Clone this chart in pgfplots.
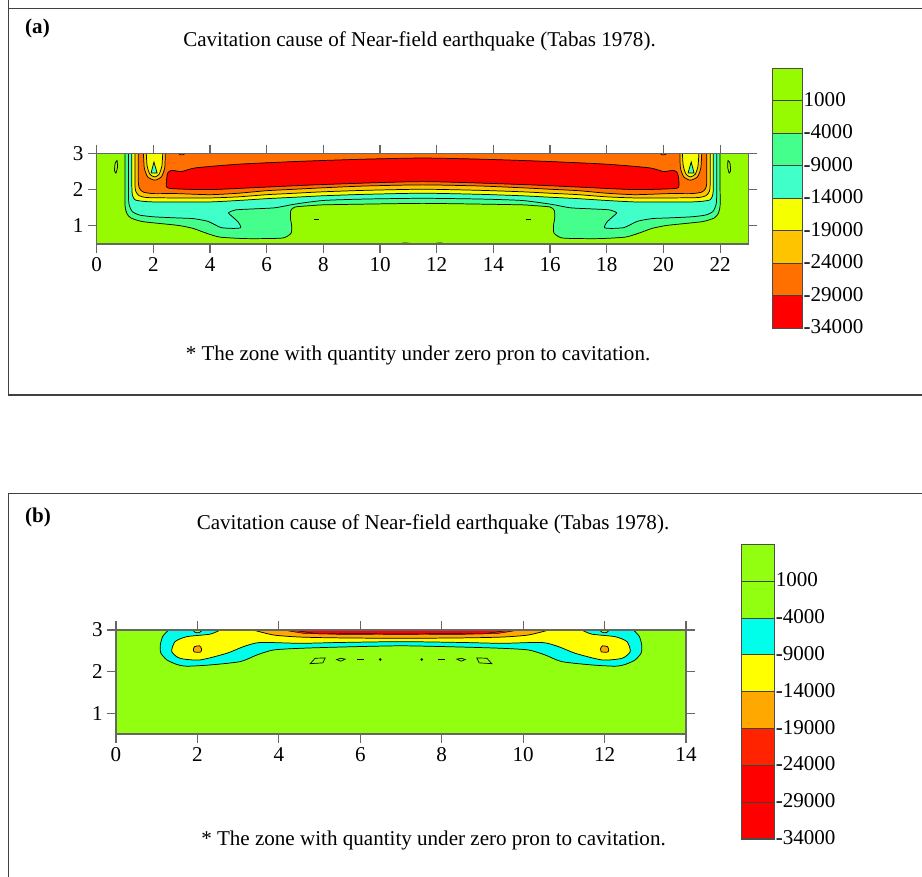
\documentclass[border=0pt]{standalone}
\usepackage{fontspec}
\setmainfont{Liberation Serif}
\usepackage{pgfplots}
\pgfplotsset{compat=1.18}
\definecolor{limeA}{RGB}{150,250,0}
\definecolor{sgA}{RGB}{68,255,140}
\definecolor{aqA}{RGB}{64,255,200}
\definecolor{yelA}{RGB}{245,255,0}
\definecolor{goldA}{RGB}{255,196,0}
\definecolor{orA}{RGB}{255,112,0}
\definecolor{redA}{RGB}{255,0,0}
\definecolor{limeB}{RGB}{145,255,15}
\definecolor{cyanB}{RGB}{0,255,235}
\definecolor{yelB}{RGB}{255,255,0}
\definecolor{orB}{RGB}{255,168,0}
\definecolor{roB}{RGB}{255,35,0}
\definecolor{redB}{RGB}{255,0,0}
\newcommand{\fs}{\fontsize{15.8}{19}\selectfont}
\pgfplotsset{
 cplot/.style={scale only axis, axis on top, tick align=outside,
   xticklabel pos=bottom, yticklabel pos=left, xtick pos=both, ytick pos=both,
   major tick length=6.5pt,
   axis line style={black!60, line width=0.9pt},
   tick style={black!60, line width=0.9pt},
   ticklabel style={font=\fs},
   /pgf/number format/assume math mode=true},
 cl/.style={draw=black, line width=0.55pt, smooth, tension=0.4},
 cbar/.style={scale only axis, axis on top, xmin=0, xmax=1, ymin=-34000, ymax=6000,
   xtick=\empty, ytick={1000,-4000,-9000,-14000,-19000,-24000,-29000,-34000},
   yticklabels={1000,-4000,-9000,-14000,-19000,-24000,-29000,-34000},
   yticklabel pos=right, scaled y ticks=false, major tick length=0pt,
   ticklabel style={font=\fs}, yticklabel style={xshift=-2.5pt, yshift=1pt},
   axis line style={black!70, line width=0.8pt}},
 band/.style={fill=#1, draw=black!75, line width=0.6pt}
}
\begin{document}
\begin{tikzpicture}[x=0.75pt,y=0.75pt]
\useasboundingbox (0,0) rectangle (922,876);
% frames
\draw[black!75, line width=1pt] (8.3,935) -- (8.3,481) -- (935,481);
\draw[black!75, line width=1pt] (8.3,867.7) -- (935,867.7);
\draw[black!75, line width=1pt] (935,382.7) -- (8.3,382.7) -- (8.3,-20);
% texts
\node[font=\fs\bfseries] at (37.5,848) {(a)};
\node[font=\fs] at (419.5,835) {Cavitation cause of Near-field earthquake (Tabas 1978).};
\node[font=\fs] at (418,521) {* The zone with quantity under zero pron to cavitation.};
\node[font=\fs\bfseries] at (38,359) {(b)};
\node[font=\fs] at (433,352) {Cavitation cause of Near-field earthquake (Tabas 1978).};
\node[font=\fs] at (433.5,36) {* The zone with quantity under zero pron to cavitation.};

% ---------------- panel (a)
\begin{axis}[cplot, at={(72.53pt,474pt)}, anchor=south west, width=488.8pt, height=68pt,
  xmin=0, xmax=23, ymin=0.5, ymax=3, xtick={0,2,...,22}, ytick={1,2,3}]
\addplot[fill=limeA, draw=none] coordinates {(0,0.5)(23,0.5)(23,3)(0,3)} -- cycle;
% < -4000
\addplot[cl, fill=sgA] coordinates {(1.0,3.0) (1.0,2.0) (1.0,1.55) (1.06,1.35) (1.2,1.22) (1.6,1.12) (2.3,1.06) (2.9,1.01) (3.4,0.93) (3.9,0.79) (4.35,0.69) (5.2,0.65) (6.0,0.65) (6.6,0.67) (6.86,0.8) (6.88,1.0) (6.84,1.2) (6.85,1.42) (7.0,1.52) (7.6,1.56) (8,1.58) (9.5,1.6) (11.5,1.62) (13.5,1.6) (15,1.58) (15.4,1.56) (16.0,1.52) (16.15,1.42) (16.16,1.2) (16.12,1.0) (16.14,0.8) (16.4,0.67) (17.0,0.65) (17.8,0.65) (18.65,0.69) (19.1,0.79) (19.6,0.93) (20.1,1.01) (20.7,1.06) (21.4,1.12) (21.8,1.22) (21.94,1.35) (22.0,1.55) (22.0,2.0) (22.0,3.0)} -- cycle;
% < -9000
\addplot[cl, fill=aqA] coordinates {(1.12,3.0) (1.12,1.9) (1.14,1.6) (1.25,1.4) (1.5,1.3) (2.0,1.25) (2.8,1.22) (3.4,1.2) (3.9,1.13) (4.2,1.02) (4.4,0.95) (4.8,0.93) (5.08,0.95) (5.0,1.1) (4.75,1.28) (4.65,1.36) (4.9,1.44) (5.6,1.47) (6.3,1.5) (7.0,1.6) (8,1.7) (9.5,1.74) (11.5,1.76) (13.5,1.74) (15,1.7) (16.0,1.6) (16.7,1.5) (17.4,1.47) (18.1,1.44) (18.35,1.36) (18.25,1.28) (18.0,1.1) (17.92,0.95) (18.2,0.93) (18.6,0.95) (18.8,1.02) (19.1,1.13) (19.6,1.2) (20.2,1.22) (21.0,1.25) (21.5,1.3) (21.75,1.4) (21.86,1.6) (21.88,1.9) (21.88,3.0)} -- cycle;
% < -14000
\addplot[cl, fill=yelA] coordinates {(1.24,3.0) (1.24,2.1) (1.26,1.85) (1.35,1.72) (1.6,1.68) (2.0,1.66) (2.8,1.66) (4.0,1.66) (5.0,1.7) (6.0,1.75) (7.0,1.79) (8.0,1.83) (9.5,1.87) (11.5,1.9) (13.5,1.87) (15.0,1.83) (16.0,1.79) (17.0,1.75) (18.0,1.7) (19.0,1.66) (20.2,1.66) (21.0,1.66) (21.4,1.68) (21.65,1.72) (21.74,1.85) (21.76,2.1) (21.76,3.0)} -- cycle;
% < -19000
\addplot[cl, fill=goldA] coordinates {(1.35,3.0) (1.35,2.15) (1.38,1.95) (1.5,1.83) (1.8,1.78) (2.8,1.77) (4.0,1.77) (5.0,1.8) (6.0,1.86) (7.0,1.9) (8.0,1.94) (9.5,1.98) (11.5,2.01) (13.5,1.98) (15.0,1.94) (16.0,1.9) (17.0,1.86) (18.0,1.8) (19.0,1.77) (20.2,1.77) (21.2,1.78) (21.5,1.83) (21.62,1.95) (21.65,2.15) (21.65,3.0)} -- cycle;
% < -24000
\addplot[cl, fill=orA] coordinates {(1.47,3.0) (1.47,2.2) (1.52,2.02) (1.65,1.93) (2.0,1.89) (2.8,1.89) (4.0,1.86) (5.0,1.9) (6.0,1.97) (7.0,2.01) (8.0,2.05) (9.5,2.1) (11.5,2.13) (13.5,2.1) (15.0,2.05) (16.0,2.01) (17.0,1.97) (18.0,1.9) (19.0,1.86) (20.2,1.89) (21.0,1.89) (21.35,1.93) (21.48,2.02) (21.53,2.2) (21.53,3.0)} -- cycle;
% eyes near the walls
\addplot[cl, fill=goldA] coordinates {(1.65,3.0) (1.68,2.6) (1.8,2.35) (2.05,2.26) (2.28,2.35) (2.4,2.6) (2.42,3.0)} -- cycle;
\addplot[cl, fill=yelA] coordinates {(1.75,3.0) (1.78,2.65) (1.88,2.42) (2.05,2.35) (2.2,2.42) (2.3,2.65) (2.33,3.0)} -- cycle;
\addplot[draw=black, line width=0.55pt, fill=aqA] coordinates {(1.92,2.46) (2.13,2.46) (2.02,2.76)} -- cycle;
\addplot[cl, fill=goldA] coordinates {(20.58,3.0) (20.6,2.6) (20.72,2.35) (20.95,2.26) (21.2,2.35) (21.32,2.6) (21.35,3.0)} -- cycle;
\addplot[cl, fill=yelA] coordinates {(20.67,3.0) (20.7,2.65) (20.8,2.42) (20.95,2.35) (21.12,2.42) (21.22,2.65) (21.25,3.0)} -- cycle;
\addplot[draw=black, line width=0.55pt, fill=aqA] coordinates {(20.87,2.46) (21.08,2.46) (20.98,2.76)} -- cycle;
% < -29000
\addplot[cl, fill=redA] coordinates {(2.45,2.12) (2.5,2.45) (2.65,2.53) (3.0,2.5) (3.5,2.6) (5.0,2.7) (7.2,2.78) (9.5,2.84) (11.5,2.87) (13.5,2.84) (15.8,2.78) (18.0,2.7) (19.5,2.6) (20.0,2.5) (20.35,2.53) (20.5,2.45) (20.55,2.12) (20.4,2.03) (19.0,2.0) (17.0,2.07) (15.0,2.14) (11.5,2.22) (8.0,2.14) (6.0,2.07) (4.0,2.0) (2.6,2.03) (2.45,2.12)};
% small features
\addplot[cl, fill=goldA] coordinates {(2.88,3.0) (2.95,2.96) (3.05,2.96) (3.12,3.0)};
\addplot[cl, fill=goldA] coordinates {(19.88,3.0) (19.95,2.96) (20.05,2.96) (20.12,3.0)};
\addplot[cl] coordinates {(0.68,2.45) (0.73,2.6) (0.72,2.8) (0.65,2.72) (0.63,2.52) (0.68,2.45)};
\addplot[cl] coordinates {(22.32,2.45) (22.37,2.52) (22.35,2.72) (22.28,2.8) (22.27,2.6) (22.32,2.45)};
\addplot[draw=black, line width=0.7pt] coordinates {(7.68,1.19) (7.86,1.19)};
\addplot[draw=black, line width=0.7pt] coordinates {(15.14,1.19) (15.32,1.19)};
\addplot[draw=black, line width=0.6pt] coordinates {(10.8,0.53) (11.05,0.52)};
\addplot[draw=black, line width=0.6pt] coordinates {(11.95,0.52) (12.2,0.53)};
\end{axis}

% colorbar (a)
\begin{axis}[cbar, at={(579.2pt,410.8pt)}, anchor=south west, width=22.5pt, height=195pt]
\addplot[band=limeA] coordinates {(0,1000)(1,1000)(1,6000)(0,6000)} -- cycle;
\addplot[band=limeA] coordinates {(0,-4000)(1,-4000)(1,1000)(0,1000)} -- cycle;
\addplot[band=sgA] coordinates {(0,-9000)(1,-9000)(1,-4000)(0,-4000)} -- cycle;
\addplot[band=aqA] coordinates {(0,-14000)(1,-14000)(1,-9000)(0,-9000)} -- cycle;
\addplot[band=yelA] coordinates {(0,-19000)(1,-19000)(1,-14000)(0,-14000)} -- cycle;
\addplot[band=goldA] coordinates {(0,-24000)(1,-24000)(1,-19000)(0,-19000)} -- cycle;
\addplot[band=orA] coordinates {(0,-29000)(1,-29000)(1,-24000)(0,-24000)} -- cycle;
\addplot[band=redA] coordinates {(0,-34000)(1,-34000)(1,-29000)(0,-29000)} -- cycle;
\end{axis}

% ---------------- panel (b)
\begin{axis}[cplot, at={(87pt,106.5pt)}, anchor=south west, width=427.5pt, height=78pt,
  xmin=0, xmax=14, ymin=0.5, ymax=3, xtick={0,2,...,14}, ytick={1,2,3}]
\addplot[fill=limeB, draw=none] coordinates {(0,0.5)(14,0.5)(14,3)(0,3)} -- cycle;
\addplot[cl, fill=cyanB] coordinates {(1.29,3.0) (1.15,2.85) (1.09,2.65) (1.1,2.45) (1.25,2.28) (1.5,2.17) (1.74,2.13) (2.31,2.16) (3.05,2.24) (3.46,2.4) (3.87,2.52) (4.52,2.56) (5.5,2.59) (7.0,2.62) (8.5,2.59) (9.48,2.56) (10.13,2.52) (10.54,2.4) (10.95,2.24) (11.69,2.16) (12.26,2.13) (12.5,2.17) (12.75,2.28) (12.9,2.45) (12.91,2.65) (12.85,2.85) (12.71,3.0)} -- cycle;
\addplot[cl, fill=yelB] coordinates {(2.56,3.0) (2.31,2.9) (1.74,2.84) (1.45,2.72) (1.37,2.48) (1.57,2.32) (2.06,2.28) (2.72,2.44) (3.13,2.6) (3.54,2.7) (4.52,2.68) (5.5,2.7) (7.0,2.72) (8.5,2.7) (9.48,2.68) (10.46,2.7) (10.87,2.6) (11.28,2.44) (11.94,2.28) (12.43,2.32) (12.63,2.48) (12.55,2.72) (12.26,2.84) (11.69,2.9) (11.44,3.0)} -- cycle;
\addplot[cl, fill=orB] coordinates {(3.37,3.0) (3.87,2.88) (4.52,2.83) (5.5,2.81) (7.0,2.8) (8.5,2.81) (9.48,2.83) (10.13,2.88) (10.63,3.0)} -- cycle;
\addplot[draw=black, line width=0.35pt, fill=roB] coordinates {(4.1,3.0) (4.6,2.92) (5.5,2.895) (7,2.89) (8.5,2.895) (9.4,2.92) (9.9,3.0)} -- cycle;
\addplot[draw=black, line width=0.3pt, fill=redB] coordinates {(4.3,3.0) (5.0,2.905) (5.6,2.92) (7,2.915) (8.4,2.92) (9.0,2.905) (9.7,3.0)} -- cycle;
% orange spots and lime lenses
\addplot[cl, fill=orB] coordinates {(1.92,2.47) (2.08,2.47) (2.1,2.55) (2.05,2.62) (1.93,2.6) (1.9,2.53) (1.92,2.47)};
\addplot[cl, fill=orB] coordinates {(11.92,2.47) (12.08,2.47) (12.1,2.53) (12.07,2.6) (11.95,2.62) (11.9,2.55) (11.92,2.47)};
\addplot[cl, fill=limeB] coordinates {(1.88,3.0) (1.95,2.94) (2.05,2.94) (2.12,3.0)} -- cycle;
\addplot[cl, fill=limeB] coordinates {(11.88,3.0) (11.95,2.94) (12.05,2.94) (12.12,3.0)} -- cycle;
% small islands
\addplot[draw=black, line width=0.5pt] coordinates {(4.77,2.19) (4.89,2.32) (5.14,2.33) (5.08,2.21)} -- cycle;
\addplot[draw=black, line width=0.5pt] coordinates {(5.42,2.29) (5.52,2.32) (5.63,2.3) (5.52,2.25)} -- cycle;
\addplot[draw=black, line width=1.3pt] coordinates {(5.92,2.29) (6.08,2.29)};
\addplot[draw=black, line width=1.3pt] coordinates {(7.92,2.29) (8.08,2.29)};
\addplot[draw=black, line width=0.5pt] coordinates {(8.37,2.3) (8.48,2.32) (8.58,2.29) (8.48,2.25)} -- cycle;
\addplot[draw=black, line width=0.5pt] coordinates {(8.92,2.21) (8.86,2.33) (9.11,2.32) (9.23,2.19)} -- cycle;
\addplot[only marks, mark=*, mark size=0.7pt, black] coordinates {(6.49,2.29) (7.51,2.29)};
\end{axis}

% colorbar (b)
\begin{axis}[cbar, at={(556.3pt,27.75pt)}, anchor=south west, width=24.5pt, height=221pt]
\addplot[band=limeB] coordinates {(0,1000)(1,1000)(1,6000)(0,6000)} -- cycle;
\addplot[band=limeB] coordinates {(0,-4000)(1,-4000)(1,1000)(0,1000)} -- cycle;
\addplot[band=cyanB] coordinates {(0,-9000)(1,-9000)(1,-4000)(0,-4000)} -- cycle;
\addplot[band=yelB] coordinates {(0,-14000)(1,-14000)(1,-9000)(0,-9000)} -- cycle;
\addplot[band=orB] coordinates {(0,-19000)(1,-19000)(1,-14000)(0,-14000)} -- cycle;
\addplot[band=roB] coordinates {(0,-24000)(1,-24000)(1,-19000)(0,-19000)} -- cycle;
\addplot[band=redB] coordinates {(0,-29000)(1,-29000)(1,-24000)(0,-24000)} -- cycle;
\addplot[band=redB] coordinates {(0,-34000)(1,-34000)(1,-29000)(0,-29000)} -- cycle;
\end{axis}
\end{tikzpicture}
\end{document}
